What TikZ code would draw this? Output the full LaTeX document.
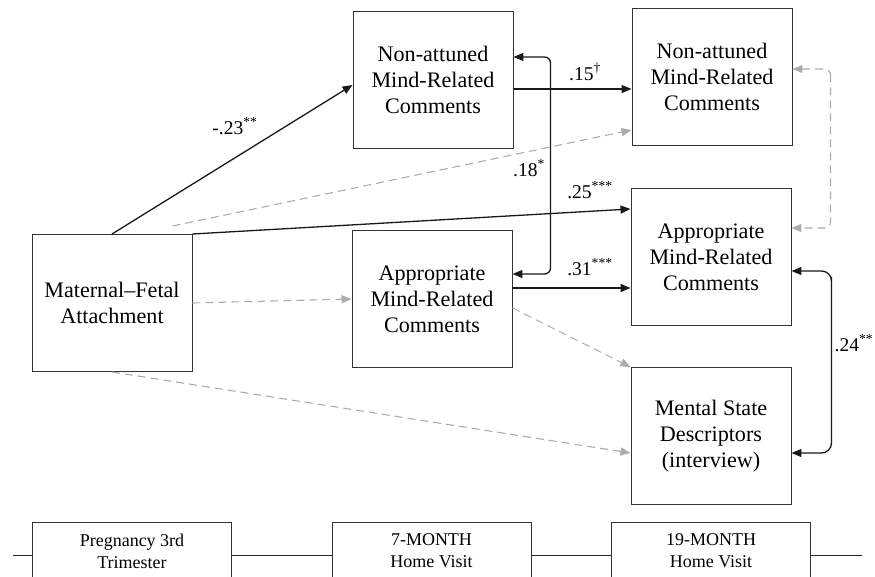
\documentclass[tikz,border=0pt]{standalone}
\usepackage{fontspec}
\setmainfont{Liberation Serif}
\usetikzlibrary{calc,arrows.meta}

\begin{document}
\begin{tikzpicture}[>={Triangle[length=10pt,width=8pt]}, x=1pt, y=-1pt,
  varbox/.style={draw=black!80, line width=0.9pt, fill=white, scale=1.08, minimum width=148.15pt,
    minimum height=126.85pt, inner sep=0pt, align=center, font=\fontsize{20.5}{24}\selectfont},
  timebox/.style={draw=black!80, line width=0.9pt, fill=white, minimum width=199pt,
    minimum height=58pt, inner sep=0pt, align=center, font=\fontsize{18}{22}\selectfont},
  sigpath/.style={->, line width=1.3pt, black!90},
  nspath/.style={->, line width=1.1pt, gray!65, dash pattern=on 8pt off 5pt},
  coef/.style={inner sep=1pt, font=\fontsize{19.5}{24}\selectfont}]
  \useasboundingbox (0,0) rectangle (875,577);
  % ---------------------------------------------------------------- measures, by time point
  \node[varbox] (mfa)  at (112,303) {Maternal--Fetal\\Attachment};
  \node[varbox] (na7)  at (433,80)  {Non-attuned\\Mind-Related\\Comments};
  \node[varbox] (ap7)  at (432,299) {Appropriate\\Mind-Related\\Comments};
  \node[varbox] (na19) at (712,77)  {Non-attuned\\Mind-Related\\Comments};
  \node[varbox] (ap19) at (711,257) {Appropriate\\Mind-Related\\Comments};
  \node[varbox] (msd)  at (711,436) {Mental State\\Descriptors\\(interview)};
  % ---------------------------------------------------------------- non-significant paths
  \draw[nspath] ($(mfa.north east)+(-20,-8)$) -- ($(na19.west)+(0,53)$);
  \draw[nspath] (mfa.east) -- (ap7.west);
  \draw[nspath] (mfa.south) -- ($(msd.west)+(0,17)$);
  \draw[nspath] ($(ap7.east)+(0,9)$) -- (msd.north west);
  \draw[nspath, <->, rounded corners=6pt] ($(na19.east)+(0,-8)$) -| ($(na19.east)+(38,0)$)
    |- ($(ap19.east)+(0,-29)$);
  % ---------------------------------------------------------------- significant paths
  \draw[sigpath] (mfa.north) -- ($(na7.west)+(0,5)$);
  \draw[sigpath] (mfa.north east) -- ($(ap19.west)+(0,-48)$);
  \draw[sigpath] ($(na7.east)+(0,9)$) -- ($(na19.west)+(0,12)$);
  \draw[sigpath] ($(ap7.east)+(0,-11)$) -- ($(ap19.west)+(0,31)$);
  \draw[sigpath, <->, rounded corners=6pt] ($(na7.east)+(0,-23)$) -| ($(na7.east)+(37,0)$)
    |- ($(ap7.east)+(0,-25)$);
  \draw[sigpath, <->, rounded corners=10pt] ($(ap19.east)+(0,14)$) -| ($(ap19.east)+(40,30)$)
    |- ($(msd.east)+(0,17)$);
  % coefficients
  \node[coef] (c23) at (235,126) {-.23\textsuperscript{**}};
  \node[coef] (c15) at (585,72)  {.15\textsuperscript{†}};
  \node[coef] (c18) at (529,168) {.18\textsuperscript{*}};
  \node[coef] (c25) at (590,190) {.25\textsuperscript{***}};
  \node[coef] (c31) at (590,267) {.31\textsuperscript{***}};
  \node[coef] (c24) at (854,343) {.24\textsuperscript{**}};
  % ---------------------------------------------------------------- time line
  \coordinate (tlleft)  at (13,555);
  \coordinate (tlright) at (862,555);
  \draw[line width=0.9pt, black!85] (tlleft) -- (tlright);
  \node[timebox] (t1) at (132,551)   {Pregnancy 3rd\\Trimester};
  \node[timebox] (t2) at (431.5,551) {7-MONTH\\Home Visit};
  \node[timebox] (t3) at (711,551)   {19-MONTH\\Home Visit};
\end{tikzpicture}
\end{document}
